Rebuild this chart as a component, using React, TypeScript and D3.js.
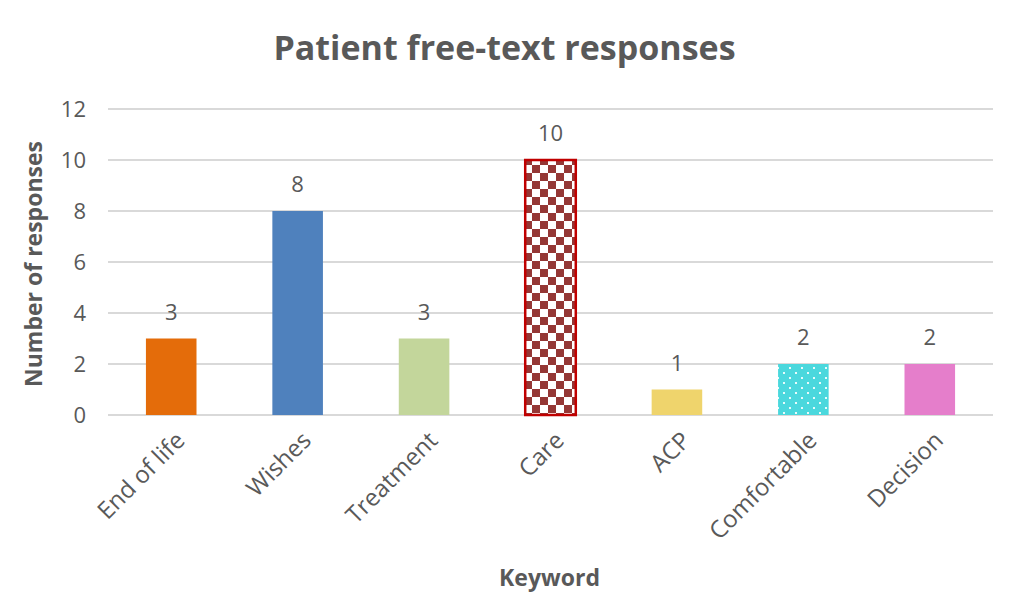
import React from 'react';
import * as d3 from 'd3';

const keywords = ["End of life", "Wishes", "Treatment", "Care", "ACP", "Comfortable", "Decision"];
const responses = [3, 8, 3, 10, 1, 2, 2];
const yTickValues = [0, 2, 4, 6, 8, 10, 12];
const barFills = ["#E46C0A", "#4F81BD", "#C3D69B", "url(#checker)", "#EFD46C", "url(#dots)", "#E57ECB"];

const width = 1009;
const height = 606;
const marginLeft = 108;
const marginRight = 16;
const marginTop = 109;
const marginBottom = 191;
const boundedWidth = width - marginLeft - marginRight;
const boundedHeight = height - marginTop - marginBottom;
const textColor = "#595959";
const font = "'Open Sans', 'Liberation Sans', sans-serif";

const App: React.FC = () => {
  const xScale = d3.scaleBand<string>().domain(keywords).range([0, boundedWidth]).paddingInner(0.6).paddingOuter(0.3);
  const yScale = d3.scaleLinear().domain([0, 12]).range([boundedHeight, 0]);

  return (
    <svg width={width} height={height} style={{position: "absolute", left: 0, top: 0, background: "white"}} fontFamily={font}>
      <defs>
        <pattern id="checker" width={16} height={16} patternUnits="userSpaceOnUse">
          <rect width={16} height={16} fill="white"/>
          <rect width={8} height={8} fill="#953735"/>
          <rect x={8} y={8} width={8} height={8} fill="#953735"/>
        </pattern>
        <pattern id="dots" width={12} height={10} patternUnits="userSpaceOnUse">
          <rect width={12} height={10} fill="#4BD8DD"/>
          <rect x={3} y={3} width={2} height={2} fill="#e8fbfb"/>
          <rect x={9} y={8} width={2} height={2} fill="#e8fbfb"/>
        </pattern>
      </defs>
      <text x={width / 2} y={60} textAnchor="middle" fontSize={34} fontWeight="bold" fill={textColor}>Patient free-text responses</text>
      <g transform={`translate(${marginLeft}, ${marginTop})`}>
        {yTickValues.map(v => (
          <g key={v} transform={`translate(0, ${yScale(v)})`}>
            <line x2={boundedWidth} stroke="#d9d9d9" strokeWidth={2}/>
            <text x={-22} dy="0.35em" textAnchor="end" fontSize={22} fill={textColor}>{v}</text>
          </g>
        ))}
        {keywords.map((k, i) => {
          const x = xScale(k) as number;
          const y = yScale(responses[i]);
          const isCare = k === "Care";
          return (
            <g key={k}>
              <rect x={x} y={y} width={xScale.bandwidth()} height={boundedHeight - y} fill={barFills[i]}
                stroke={isCare ? "#C00000" : "none"} strokeWidth={isCare ? 2.5 : 0}/>
              <text x={x + xScale.bandwidth() / 2} y={y - 19} textAnchor="middle" fontSize={22} fill={textColor}>{responses[i]}</text>
              <text transform={`translate(${x + xScale.bandwidth() / 2 + 9}, ${boundedHeight + 21}) rotate(-45)`}
                textAnchor="end" dy="0.35em" fontSize={24} fill={textColor}>{k}</text>
            </g>
          );
        })}
      </g>
      <text transform={`translate(42, ${marginTop + boundedHeight / 2 + 2}) rotate(-90)`} textAnchor="middle" fontSize={23} fontWeight="bold" fill={textColor}>Number of responses</text>
      <text x={marginLeft + boundedWidth / 2 - 1} y={586} textAnchor="middle" fontSize={23} fontWeight="bold" fill={textColor}>Keyword</text>
    </svg>
  );
};

export default App;
